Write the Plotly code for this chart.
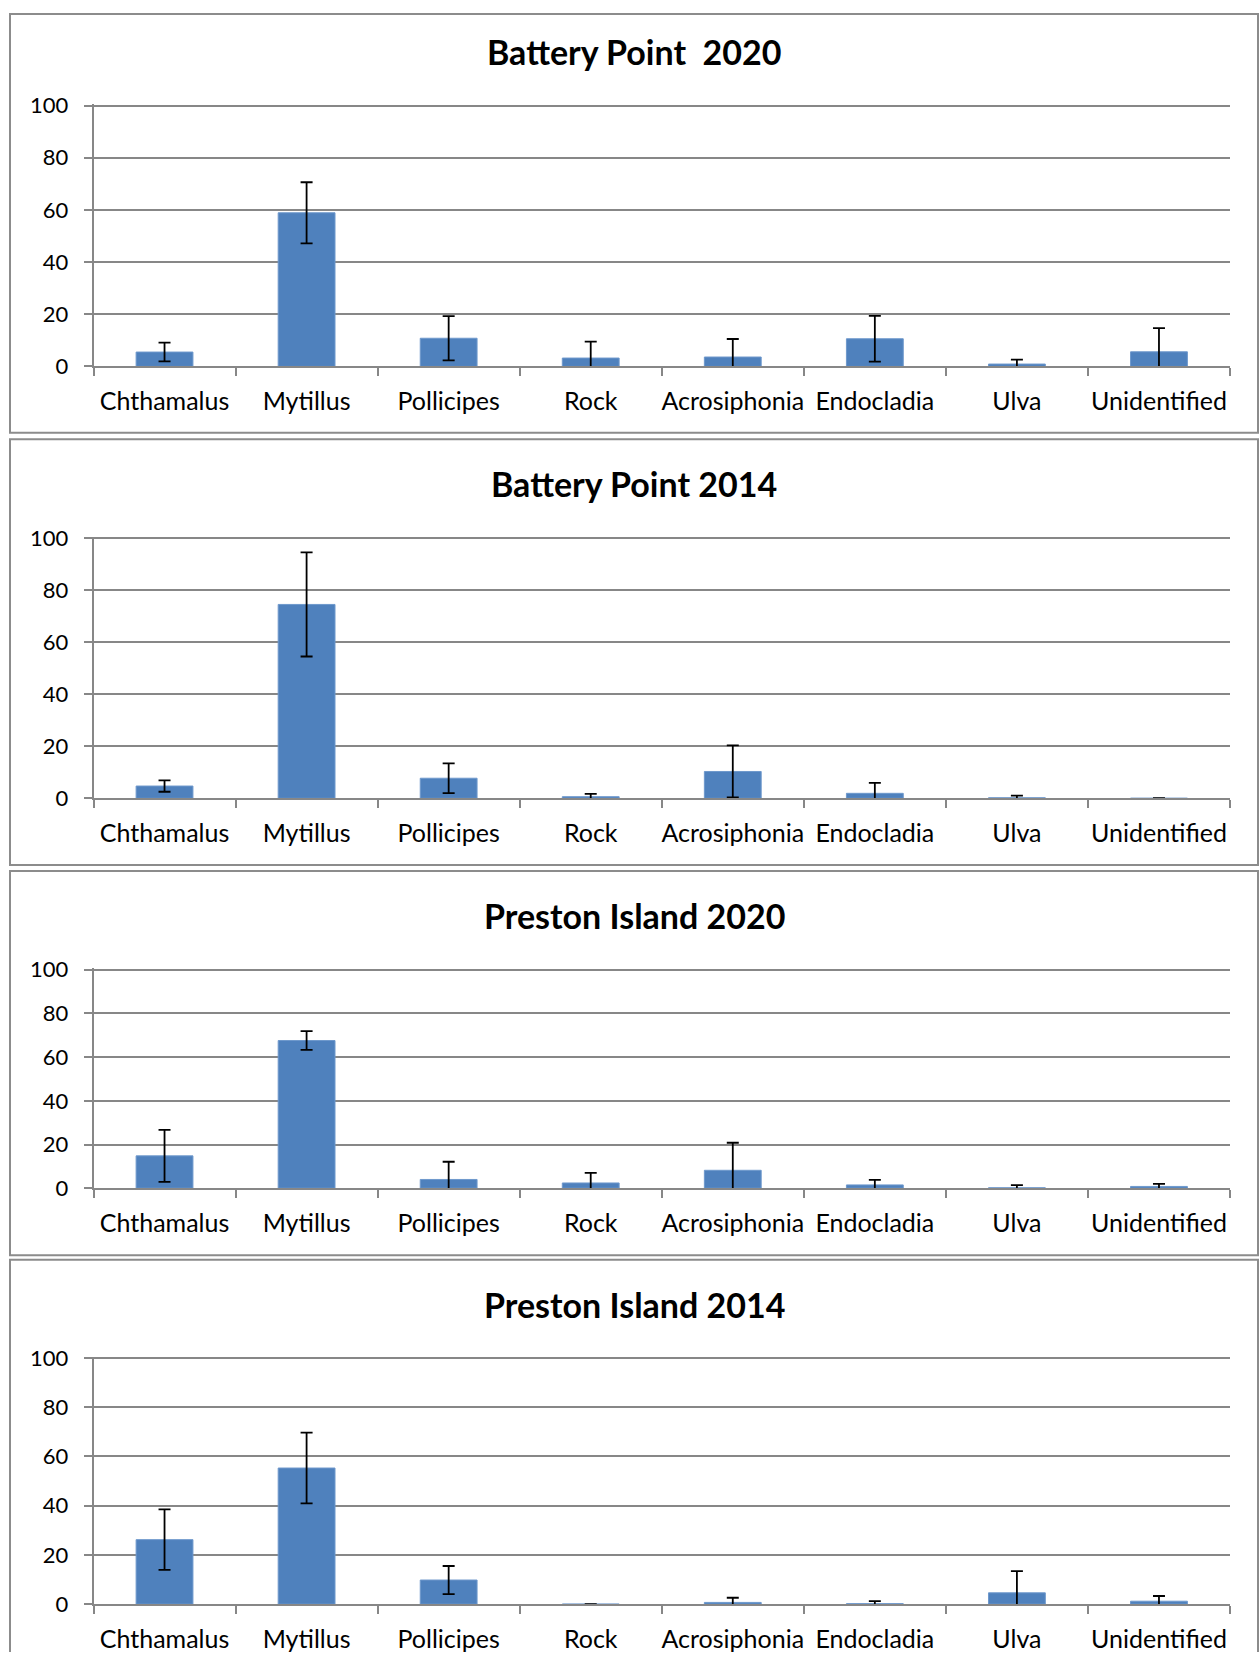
import plotly.graph_objects as go

# ---------------- data ----------------
categories = ["Chthamalus", "Mytillus", "Pollicipes", "Rock",
              "Acrosiphonia", "Endocladia", "Ulva", "Unidentified"]
titles = ["Battery Point\u00a0 2020", "Battery Point 2014",
          "Preston Island 2020", "Preston Island 2014"]
y_ticks = [0, 20, 40, 60, 80, 100]

bp2020_mean = [5.5, 58.9, 10.8, 3.2, 3.6, 10.6, 0.9, 5.6]
bp2020_err = [3.6, 11.7, 8.5, 6.3, 6.9, 8.8, 1.7, 9.1]
bp2014_mean = [4.7, 74.5, 7.7, 0.6, 10.3, 1.9, 0.2, 0.0]
bp2014_err = [2.2, 20.0, 5.7, 1.1, 10.0, 4.0, 0.8, 0.0]
pi2020_mean = [14.8, 67.6, 4.0, 2.4, 8.2, 1.5, 0.2, 0.8]
pi2020_err = [11.9, 4.3, 8.1, 4.6, 12.6, 2.3, 1.2, 1.2]
pi2014_mean = [26.2, 55.3, 9.8, 0.0, 0.7, 0.2, 4.6, 1.2]
pi2014_err = [12.3, 14.4, 5.7, 0.0, 1.9, 1.0, 8.8, 2.1]

means = [bp2020_mean, bp2014_mean, pi2020_mean, pi2014_mean]
errs = [bp2020_err, bp2014_err, pi2020_err, pi2014_err]

# ---------------- layout (pixels) ----------------
W, H = 1259, 1665
X_LEFT, X_RIGHT = 93.5, 1230
FR_LEFT, FR_RIGHT = 10, 1258
Y_MAX = 100.6  # slight headroom so the 100 gridline is drawn
# vertical calibration of the rendered page (observed offset / squeeze)
V_OFF, V_SQ = 13.5, 0.9838
# target page positions (px):
# (plot top [value 100], plot bottom [value 0], frame top, frame bottom, title center)
panels = [
    (106.0, 366.7, 7.5, 433.0, 51.5),
    (538.3, 798.3, 439.5, 865.0, 484.0),
    (969.7, 1188.0, 871.0, 1255.0, 915.5),
    (1357.7, 1603.7, 1259.5, None, 1304.0),
]

BAR = "#4F81BD"
GRID = "#878787"
FONT = "Lato"

def design(t):
    return (t - V_OFF) / V_SQ

def py(t):
    d = min(max(design(t), 1.0), H)
    return 1 - d / H

def px(p):
    return p / W

fig = go.Figure()
shapes = []
annotations = []
layout = dict(
    width=W, height=H,
    margin=dict(l=0, r=0, t=0, b=0),
    paper_bgcolor="white", plot_bgcolor="white",
    showlegend=False,
    bargap=0.6,
    font=dict(family=FONT, color="#000000"),
)

for i, (ptop, pbot, ftop, fbot, tcy) in enumerate(panels):
    n = "" if i == 0 else str(i + 1)
    top_px = pbot - (pbot - ptop) * Y_MAX / 100.0
    fig.add_trace(go.Bar(
        x=categories, y=means[i],
        xaxis="x" + n, yaxis="y" + n,
        marker=dict(color=BAR, line=dict(color="#6E98CC", width=1)),
        error_y=dict(type="data", array=errs[i], visible=True,
                     color="black", thickness=1.8, width=6),
        hoverinfo="x+y",
    ))
    layout["xaxis" + n] = dict(
        domain=[X_LEFT / W, X_RIGHT / W],
        anchor="y" + n,
        type="category",
        categoryorder="array", categoryarray=categories,
        showline=True, linecolor=GRID, linewidth=1.5,
        ticks="outside", tickson="boundaries", ticklen=8,
        tickcolor=GRID, tickwidth=1.5,
        showgrid=False, zeroline=False,
        tickangle=0,
        tickfont=dict(family=FONT, size=25, color="#000000"),
        ticklabelstandoff=12,
        range=[-0.5, len(categories) - 0.5],
    )
    layout["yaxis" + n] = dict(
        domain=[py(pbot), py(top_px)],
        anchor="x" + n,
        range=[0, Y_MAX],
        tickvals=y_ticks,
        showgrid=True, gridcolor=GRID, gridwidth=1.5,
        showline=True, linecolor=GRID, linewidth=1.5,
        ticks="outside", ticklen=8, tickcolor=GRID, tickwidth=1.5,
        zeroline=False,
        tickfont=dict(family=FONT, size=22, color="#000000"),
        ticklabelstandoff=11,
    )
    if fbot is not None:
        shapes.append(dict(
            type="rect", xref="paper", yref="paper",
            x0=px(FR_LEFT), x1=px(FR_RIGHT), y0=py(fbot), y1=py(ftop),
            line=dict(color="#8C8C8C", width=2), fillcolor="rgba(0,0,0,0)",
            layer="below",
        ))
    else:
        # last frame runs off the bottom of the page: draw it open-ended
        path = "M {a},{b} L {a},{c} L {d},{c} L {d},{b}".format(
            a=px(FR_LEFT), b=0, c=py(ftop), d=px(FR_RIGHT))
        shapes.append(dict(
            type="path", xref="paper", yref="paper", path=path,
            line=dict(color="#8C8C8C", width=2), layer="below",
        ))
    annotations.append(dict(
        text="<b>" + titles[i] + "</b>",
        xref="paper", yref="paper",
        x=634 / W, y=py(tcy), xanchor="center", yanchor="middle",
        showarrow=False,
        font=dict(family=FONT, size=34, color="#000000"),
    ))

layout["shapes"] = shapes
layout["annotations"] = annotations
fig.update_layout(**layout)

pin_to_corner = (
    "document.documentElement.style.margin='0';"
    "document.body.style.margin='0';"
    "var gd=document.querySelector('.plotly-graph-div');"
    "gd.style.position='absolute';gd.style.top='0px';gd.style.left='0px';"
)

fig.write_html(
    "out.html",
    config={"displayModeBar": False},
    post_script=pin_to_corner,
)
